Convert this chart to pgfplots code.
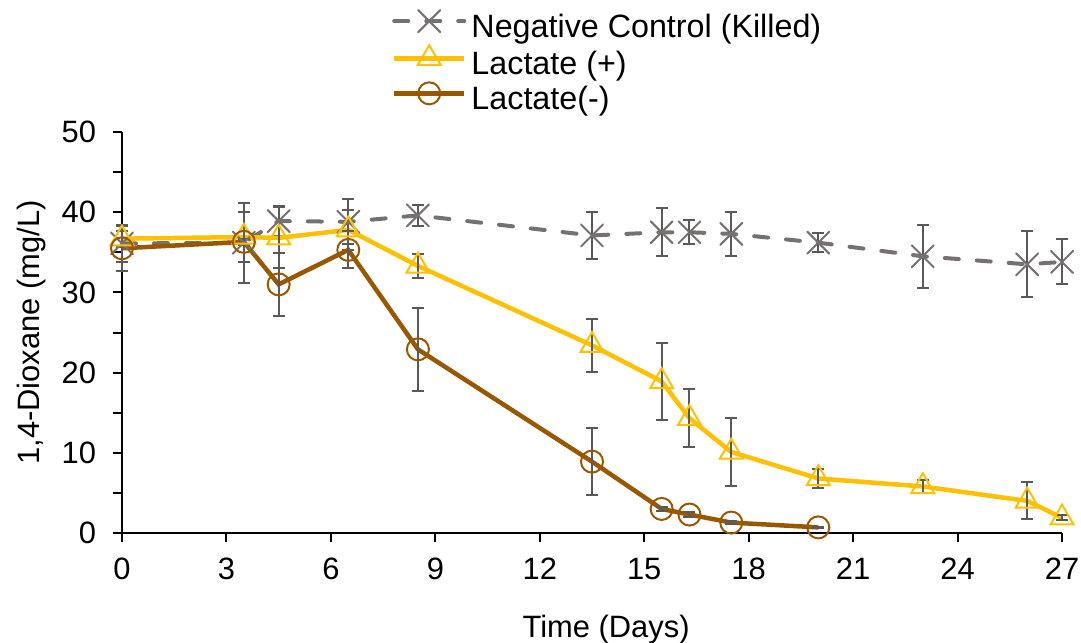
\documentclass[border=0pt]{standalone}
\usepackage{fontspec}
\setmainfont{Liberation Sans}
\usepackage{pgfplots}
\pgfplotsset{compat=1.18}
\definecolor{ngray}{RGB}{118,113,113}
\definecolor{egray}{RGB}{89,89,89}
\definecolor{lyellow}{RGB}{255,192,0}
\definecolor{lbrown}{RGB}{153,87,0}

\pgfplotstableread{
x y e
0 36.1 2.3
3.5 36.2 5.0
4.5 38.9 1.9
6.5 38.8 2.8
8.5 39.6 1.3
13.5 37.1 2.9
15.5 37.5 3.0
16.3 37.5 1.5
17.5 37.3 2.7
20 36.2 1.2
23 34.5 3.9
26 33.5 4.1
27 33.8 2.8
}\negctrl

\pgfplotstableread{
x y e
0 36.7 1.0
3.5 36.9 3.1
4.5 36.8 3.8
6.5 37.8 2.5
8.5 33.3 1.5
13.5 23.4 3.3
15.5 18.9 4.8
16.3 14.3 3.6
17.5 10.1 4.2
20 6.8 1.2
23 5.8 0.8
26 4.0 2.3
27 1.9 0.3
}\lacplus

\pgfplotstableread{
x y e
0 35.5 2.8
3.5 36.3 0.4
4.5 31.0 3.9
6.5 35.3 2.3
8.5 22.9 5.2
13.5 8.9 4.2
15.5 3.0 0.3
16.3 2.3 0.3
17.5 1.3 0.2
20 0.7 0.1
}\lacminus

\begin{document}
\begin{tikzpicture}
\begin{axis}[
  scale only axis, width=470bp, height=200.5bp,
  xmin=0, xmax=27, ymin=0, ymax=50,
  axis lines=left, axis line style={-, line width=1bp, black},
  xtick={0,3,...,27}, ytick={0,10,...,50}, minor ytick={5,15,...,45},
  tick align=outside, major tick length=4.5bp, minor tick length=4.5bp,
  tick style={black, line width=1bp},
  tick label style={font=\fontsize{15.5}{18}\selectfont},
  xticklabel style={yshift=-4.5bp},
  yticklabel style={xshift=-5bp},
  /pgf/number format/assume math mode=true,
  xlabel={Time (Days)}, ylabel={1,4-Dioxane (mg/L)},
  every axis x label/.style={at={(axis description cs:0.515,0)}, anchor=base, yshift=-52bp, font=\fontsize{15.5}{18}\selectfont},
  every axis y label/.style={at={(axis description cs:0,0.5)}, xshift=-45bp, rotate=90, anchor=center, font=\fontsize{15.5}{18}\selectfont},
  clip=false,
  legend style={draw=none, fill=none, at={(0.2872,1.304)}, anchor=north west, inner sep=0pt, outer sep=0pt,
    font=\fontsize{16.2}{18}\selectfont, nodes={inner sep=0pt, text height=12bp, text depth=6bp}, column sep=2.5bp, row sep=-2bp},
  legend cell align=left,
  legend image code/.code={\draw[mark repeat=2, mark phase=2, #1] plot coordinates {(0bp,5bp)(17.5bp,5bp)(35bp,5bp)};},
]
\addplot[ngray, line width=2bp, dash pattern=on 7bp off 9bp, line cap=round,
  mark=x, mark size=7.8bp, mark options={solid, line width=1bp, ngray},
  error bars/.cd, y dir=both, y explicit,
  error bar style={solid, egray, line width=1bp},
  error mark options={rotate=90, solid, egray, line width=1bp, mark size=3bp}]
  table[x=x, y=y, y error=e] {\negctrl};
\addlegendentry{Negative Control (Killed)}
\addplot[lyellow, line width=2.25bp,
  mark=triangle, mark size=6.6bp, mark options={solid, line width=1bp, lyellow, fill=white},
  error bars/.cd, y dir=both, y explicit,
  error bar style={solid, egray, line width=1bp},
  error mark options={rotate=90, solid, egray, line width=1bp, mark size=3bp}]
  table[x=x, y=y, y error=e] {\lacplus};
\addlegendentry{Lactate (+)}
\addplot[lbrown, line width=2.25bp,
  mark=o, mark size=5.5bp, mark options={solid, line width=1bp, lbrown, fill=white},
  error bars/.cd, y dir=both, y explicit,
  error bar style={solid, egray, line width=1bp},
  error mark options={rotate=90, solid, egray, line width=1bp, mark size=3bp}]
  table[x=x, y=y, y error=e] {\lacminus};
\addlegendentry{Lactate(-)}
\end{axis}
\pgfresetboundingbox
\path ([shift={(-61bp,-55bp)}]current axis.south west) rectangle ([shift={(9.5bp,66bp)}]current axis.north east);
\end{tikzpicture}
\end{document}
